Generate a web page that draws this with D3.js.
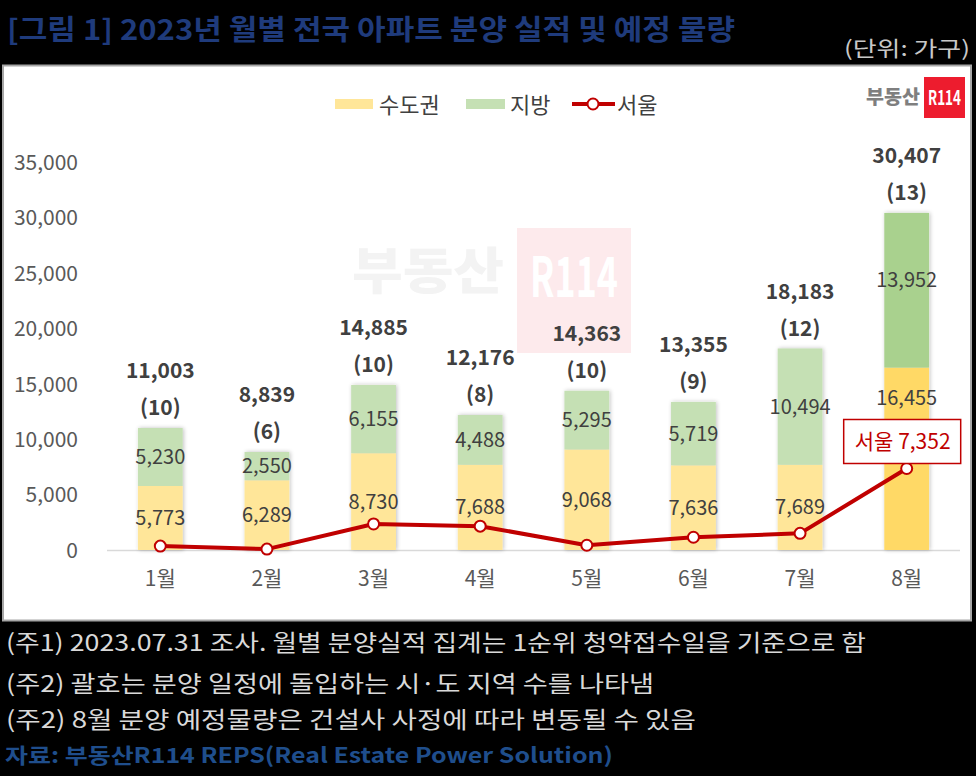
<!DOCTYPE html>
<html><head><meta charset="utf-8">
<script src="https://cdn.jsdelivr.net/npm/d3@7"></script>
<style>
html,body{margin:0;padding:0;background:#000;}
svg{display:block;}
text{font-family:"Noto Sans CJK KR","Noto Sans",sans-serif;}
</style></head>
<body>
<svg id="chart" width="976" height="776"></svg>
<script>
const months = ["1월","2월","3월","4월","5월","6월","7월","8월"];
const capital = [5773,6289,8730,7688,9068,7636,7689,16455];
const regional = [5230,2550,6155,4488,5295,5719,10494,13952];
const totals = [11003,8839,14885,12176,14363,13355,18183,30407];
const regionCounts = [10,6,10,8,10,9,12,13];
const seoul = [350,80,2350,2150,430,1150,1500,7352];
const yTicks = [0,5000,10000,15000,20000,25000,30000,35000];
const titleText = "[그림 1] 2023년 월별 전국 아파트 분양 실적 및 예정 물량";
const unitText = "(단위: 가구)";
const notes = [
  "(주1) 2023.07.31 조사. 월별 분양실적 집계는 1순위 청약접수일을 기준으로 함",
  "(주2) 괄호는 분양 일정에 돌입하는 시·도 지역 수를 나타냄",
  "(주2) 8월 분양 예정물량은 건설사 사정에 따라 변동될 수 있음"
];
const sourceText = "자료: 부동산R114 REPS(Real Estate Power Solution)";
const legendLabels = ["수도권","지방","서울"];

const svg = d3.select("#chart");
const fmt = d3.format(",");

// background
svg.append("rect").attr("width",976).attr("height",776).attr("fill","#000");
// title
svg.append("text").attr("x",7).attr("y",40).text(titleText)
  .attr("fill","#1f3b7c").attr("font-size",28).attr("font-weight",700)
  .attr("textLength",728).attr("lengthAdjust","spacingAndGlyphs");
svg.append("text").attr("x",970).attr("y",56).attr("text-anchor","end").text(unitText)
  .attr("fill","#c8c8c8").attr("font-size",21)
  .attr("textLength",126).attr("lengthAdjust","spacingAndGlyphs");

// panel
svg.append("rect").attr("x",3).attr("y",65.5).attr("width",968).attr("height",555)
  .attr("fill","#fff").attr("stroke","#a6a6a6").attr("stroke-width",2);

// watermark
const wm = svg.append("g");
wm.append("text").attr("x",428).attr("y",289).attr("text-anchor","middle").text("부동산")
  .attr("fill","#f3f3f3").attr("font-size",50).attr("font-weight",900)
  .attr("textLength",152).attr("lengthAdjust","spacingAndGlyphs");
wm.append("rect").attr("x",517).attr("y",228).attr("width",114).attr("height",125).attr("fill","#fdeaec");
wm.append("text").attr("x",574).attr("y",297).attr("text-anchor","middle").text("R114")
  .attr("fill","#ffffff").attr("font-size",56).attr("font-weight",700)
  .attr("textLength",88).attr("lengthAdjust","spacingAndGlyphs");

// logo
svg.append("text").attr("x",893).attr("y",104).attr("text-anchor","middle").text("부동산")
  .attr("fill","#7f7f7f").attr("font-size",19).attr("font-weight",900)
  .attr("textLength",54).attr("lengthAdjust","spacingAndGlyphs");
svg.append("rect").attr("x",924).attr("y",77).attr("width",41).attr("height",41).attr("fill","#ed1c2e");
svg.append("text").attr("x",944.5).attr("y",105).attr("text-anchor","middle").text("R114")
  .attr("fill","#fff").attr("font-size",20).attr("font-weight",700)
  .attr("textLength",33).attr("lengthAdjust","spacingAndGlyphs");

// scales
const x = d3.scaleBand().domain(months).range([107,960]).paddingInner(0.58).paddingOuter(0.29);
const y = d3.scaleLinear().domain([0,35000]).range([550,162]);

// y axis
const yAxis = d3.axisLeft(y).tickValues(yTicks).tickFormat(fmt).tickSize(0).tickPadding(0);
const ya = svg.append("g").attr("transform","translate(78,0)").call(yAxis);
ya.select(".domain").remove();
ya.selectAll("text").attr("font-size",21).attr("fill","#595959")
  .attr("font-family","'Noto Sans CJK KR',sans-serif").attr("dy","0.35em");

// baseline
svg.append("line").attr("x1",107).attr("x2",960).attr("y1",y(0)+0.5).attr("y2",y(0)+0.5)
  .attr("stroke","#d9d9d9").attr("stroke-width",1.5);

// x axis
const xAxis = d3.axisBottom(x).tickSize(0).tickPadding(0);
const xa = svg.append("g").attr("transform",`translate(0,${y(0)})`).call(xAxis);
xa.select(".domain").remove();
xa.selectAll("text").attr("font-size",21).attr("fill","#595959")
  .attr("font-family","'Noto Sans CJK KR',sans-serif").attr("y",23).attr("dy","0.6em");

// shadow filter
const defs = svg.append("defs");
const f = defs.append("filter").attr("id","sh").attr("x","-20%").attr("y","-10%").attr("width","140%").attr("height","120%");
f.append("feGaussianBlur").attr("in","SourceAlpha").attr("stdDeviation",2);
f.append("feOffset").attr("dx",1).attr("dy",0).attr("result","b");
f.append("feComponentTransfer").append("feFuncA").attr("type","linear").attr("slope",0.25);
const m = f.append("feMerge"); m.append("feMergeNode"); m.append("feMergeNode").attr("in","SourceGraphic");

const bars = svg.append("g");
months.forEach((mo,i)=>{
  const last = i===months.length-1;
  const g = bars.append("g").attr("filter","url(#sh)");
  g.append("rect").attr("x",x(mo)).attr("width",x.bandwidth())
    .attr("y",y(capital[i])).attr("height",y(0)-y(capital[i]))
    .attr("fill", last ? "#ffd966" : "#ffe699");
  g.append("rect").attr("x",x(mo)).attr("width",x.bandwidth())
    .attr("y",y(capital[i]+regional[i])).attr("height",y(capital[i])-y(capital[i]+regional[i]))
    .attr("fill", last ? "#a9d18e" : "#c5e0b4");
});

// segment labels
const lab = svg.append("g").attr("text-anchor","middle").attr("font-size",20).attr("fill","#404040");
months.forEach((mo,i)=>{
  const cx = x(mo)+x.bandwidth()/2;
  const last = i===months.length-1;
  const yc = last ? y(capital[i]) + 30 : (y(0)+y(capital[i]))/2;
  const yr = last ? (y(capital[i])+y(capital[i]+regional[i]))/2 - 10 : (y(capital[i])+y(capital[i]+regional[i]))/2;
  lab.append("text").attr("x",cx).attr("y",yc).attr("dy","0.35em").text(fmt(capital[i]));
  lab.append("text").attr("x",cx).attr("y",yr).attr("dy","0.35em").text(fmt(regional[i]));
  const top = y(totals[i]);
  svg.append("text").attr("x",cx).attr("y",top-57).attr("dy","0.35em").attr("text-anchor","middle")
    .attr("font-size",21).attr("font-weight",700).attr("fill","#404040").text(fmt(totals[i]));
  svg.append("text").attr("x",cx).attr("y",top-20).attr("dy","0.35em").attr("text-anchor","middle")
    .attr("font-size",21).attr("font-weight",700).attr("fill","#404040").text(`(${regionCounts[i]})`);
});

// seoul line
const line = d3.line().x((d,i)=>x(months[i])+x.bandwidth()/2).y(d=>y(d));
svg.append("path").datum(seoul).attr("d",line).attr("fill","none")
  .attr("stroke","#c00000").attr("stroke-width",4).attr("stroke-linejoin","round");
svg.selectAll("circle.pt").data(seoul).join("circle").attr("class","pt")
  .attr("cx",(d,i)=>x(months[i])+x.bandwidth()/2).attr("cy",d=>y(d)).attr("r",5.5)
  .attr("fill","#fff").attr("stroke","#c00000").attr("stroke-width",2);

// seoul callout
const li = seoul.length-1;
const bx = x(months[li])+x.bandwidth()/2;
svg.append("rect").attr("x",bx-63).attr("y",y(seoul[li])-49).attr("width",117).attr("height",44)
  .attr("fill","#fff").attr("stroke","#c00000").attr("stroke-width",1.5);
svg.append("text").attr("x",bx-4).attr("y",y(seoul[li])-27).attr("dy","0.35em").attr("text-anchor","middle")
  .attr("font-size",21).attr("fill","#c00000").text(`${legendLabels[2]} ${fmt(seoul[li])}`);

// legend
const lg = svg.append("g").attr("font-size",22).attr("fill","#404040");
lg.append("rect").attr("x",335).attr("y",99).attr("width",38).attr("height",10).attr("fill","#ffe699");
lg.append("text").attr("x",379).attr("y",105).attr("dy","0.35em").text(legendLabels[0]);
lg.append("rect").attr("x",466).attr("y",99).attr("width",39).attr("height",10).attr("fill","#c5e0b4");
lg.append("text").attr("x",510).attr("y",105).attr("dy","0.35em").text(legendLabels[1]);
lg.append("line").attr("x1",572).attr("x2",615).attr("y1",104).attr("y2",104).attr("stroke","#c00000").attr("stroke-width",4);
lg.append("circle").attr("cx",593).attr("cy",104).attr("r",5.5).attr("fill","#fff").attr("stroke","#c00000").attr("stroke-width",2);
lg.append("text").attr("x",617).attr("y",105).attr("dy","0.35em").text(legendLabels[2]);

// notes
const nys = [643,684,720];
const nlens = [860,648,690];
notes.forEach((t,i)=>{
  svg.append("text").attr("x",6).attr("y",nys[i]).attr("dy","0.35em").text(t)
    .attr("fill","#d9d9d9").attr("font-size",23)
    .attr("textLength",nlens[i]).attr("lengthAdjust","spacingAndGlyphs");
});
svg.append("text").attr("x",5).attr("y",756).attr("dy","0.35em").text(sourceText)
  .attr("fill","#1f4e8c").attr("font-size",21).attr("font-weight",700)
  .attr("textLength",608).attr("lengthAdjust","spacingAndGlyphs");
</script>
</body></html>
